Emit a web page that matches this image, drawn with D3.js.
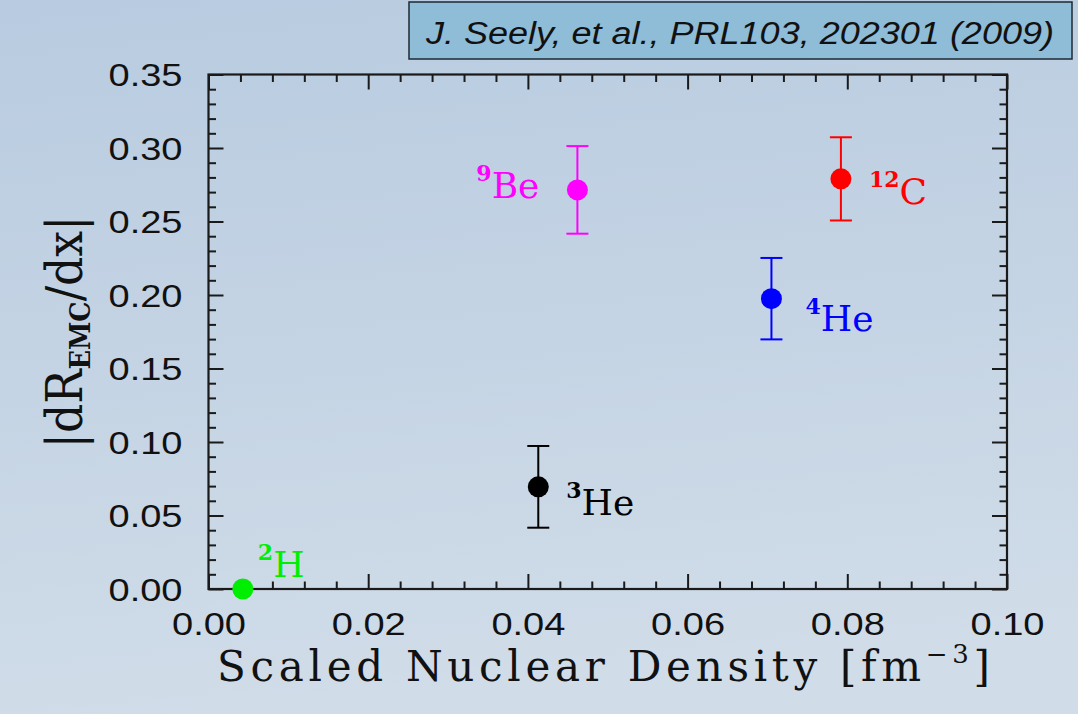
<!DOCTYPE html>
<html>
<head>
<meta charset="utf-8">
<script src="https://cdn.jsdelivr.net/npm/d3@7"></script>
<style>
  html, body { margin: 0; padding: 0; background: #c4d3e4; }
  svg { display: block; }
</style>
</head>
<body>
<svg id="chart" width="1078" height="714"></svg>
<script>
// EMC slope vs. scaled nuclear density
const massNumbers = ["2", "3", "4", "9", "12"];
const symbols     = ["H", "He", "He", "Be", "C"];
const density     = [0.0043, 0.0413, 0.0705, 0.0462, 0.0792];   // fm^-3
const emcSlope    = [0.000, 0.0695, 0.1975, 0.2715, 0.2790];    // |dR_EMC/dx|
const emcSlopeErr = [0.000, 0.0278, 0.0277, 0.0298, 0.0283];
const pointColors = ["#00ee00", "#000000", "#0000ff", "#ff00ff", "#ff0000"];

const xTickValues = [0, 0.02, 0.04, 0.06, 0.08, 0.10];
const xTickLabels = ["0.00", "0.02", "0.04", "0.06", "0.08", "0.10"];
const yTickValues = [0, 0.05, 0.10, 0.15, 0.20, 0.25, 0.30, 0.35];
const yTickLabels = ["0.00", "0.05", "0.10", "0.15", "0.20", "0.25", "0.30", "0.35"];

const citation = "J. Seely, et al., PRL103, 202301 (2009)";

// label placement relative to each marker (px): [dx, dy, anchor]
const labelPlacement = [
  [15, -12, "start"],
  [28, 28, "start"],
  [34, 32, "start"],
  [-38, 8, "end"],
  [28, 25, "start"]
];

const svg = d3.select("#chart");
const W = 1078, H = 714;
const frame = { left: 208.5, right: 1007, top: 74.5, bottom: 589 };

// backdrop
const defs = svg.append("defs");
const grad = defs.append("linearGradient").attr("id", "bg")
  .attr("x1", 0).attr("y1", 0).attr("x2", 0.15).attr("y2", 1);
grad.append("stop").attr("offset", 0).attr("stop-color", "#b8cbe0");
grad.append("stop").attr("offset", 1).attr("stop-color", "#d0dce8");
svg.append("rect").attr("width", W).attr("height", H).attr("fill", "url(#bg)");

const x = d3.scaleLinear().domain([0, 0.10]).range([frame.left, frame.right]);
const y = d3.scaleLinear().domain([0, 0.35]).range([frame.bottom, frame.top]);

const xMinor = d3.range(0, 0.1001, 0.004).filter(v => Math.abs(v / 0.02 - Math.round(v / 0.02)) > 1e-6);
const yMinor = d3.range(0, 0.3501, 0.01).filter(v => Math.abs(v / 0.05 - Math.round(v / 0.05)) > 1e-6);

const MAJOR = 15, MINOR = 7.5;
const axisColor = "#1a1a1a";

function styleAxis(g) {
  g.select(".domain").remove();
  g.selectAll(".tick line").attr("stroke", axisColor).attr("stroke-width", 2);
}

// bottom
svg.append("g").attr("transform", `translate(0,${frame.bottom})`)
  .call(d3.axisBottom(x).tickValues(xTickValues).tickSize(-MAJOR).tickPadding(MAJOR + 30)
    .tickFormat((d, i) => xTickLabels[i]))
  .call(styleAxis)
  .call(g => g.selectAll("text")
    .attr("y", 46).attr("dy", null)
    .attr("font-family", "Liberation Sans, Arial, sans-serif")
    .attr("font-size", 31).attr("fill", "#111")
    .attr("textLength", 74).attr("lengthAdjust", "spacingAndGlyphs"));
svg.append("g").attr("transform", `translate(0,${frame.bottom})`)
  .call(d3.axisBottom(x).tickValues(xMinor).tickSize(-MINOR).tickFormat(""))
  .call(styleAxis);

// top
svg.append("g").attr("transform", `translate(0,${frame.top})`)
  .call(d3.axisTop(x).tickValues(xTickValues).tickSize(-MAJOR).tickFormat(""))
  .call(styleAxis);
svg.append("g").attr("transform", `translate(0,${frame.top})`)
  .call(d3.axisTop(x).tickValues(xMinor).tickSize(-MINOR).tickFormat(""))
  .call(styleAxis);

// left
svg.append("g").attr("transform", `translate(${frame.left},0)`)
  .call(d3.axisLeft(y).tickValues(yTickValues).tickSize(-MAJOR)
    .tickFormat((d, i) => yTickLabels[i]))
  .call(styleAxis)
  .call(g => g.selectAll("text")
    .attr("x", -26).attr("dy", "0.36em")
    .attr("font-family", "Liberation Sans, Arial, sans-serif")
    .attr("font-size", 31).attr("fill", "#111")
    .attr("textLength", 74).attr("lengthAdjust", "spacingAndGlyphs"));
svg.append("g").attr("transform", `translate(${frame.left},0)`)
  .call(d3.axisLeft(y).tickValues(yMinor).tickSize(-MINOR).tickFormat(""))
  .call(styleAxis);

// right
svg.append("g").attr("transform", `translate(${frame.right},0)`)
  .call(d3.axisRight(y).tickValues(yTickValues).tickSize(-MAJOR).tickFormat(""))
  .call(styleAxis);
svg.append("g").attr("transform", `translate(${frame.right},0)`)
  .call(d3.axisRight(y).tickValues(yMinor).tickSize(-MINOR).tickFormat(""))
  .call(styleAxis);

// frame
svg.append("rect")
  .attr("x", frame.left).attr("y", frame.top)
  .attr("width", frame.right - frame.left).attr("height", frame.bottom - frame.top)
  .attr("fill", "none").attr("stroke", axisColor).attr("stroke-width", 2.2);

// data
const pts = density.map((d, i) => ({
  x: d, y: emcSlope[i], e: emcSlopeErr[i],
  a: massNumbers[i], s: symbols[i], c: pointColors[i], p: labelPlacement[i]
}));

const CAP = 11;
const bars = svg.append("g").selectAll("g").data(pts.filter(d => d.e > 0)).join("g")
  .attr("stroke", d => d.c).attr("stroke-width", 2);
bars.append("line")
  .attr("x1", d => x(d.x)).attr("x2", d => x(d.x))
  .attr("y1", d => y(d.y - d.e)).attr("y2", d => y(d.y + d.e));
bars.append("line")
  .attr("x1", d => x(d.x) - CAP).attr("x2", d => x(d.x) + CAP)
  .attr("y1", d => y(d.y + d.e)).attr("y2", d => y(d.y + d.e));
bars.append("line")
  .attr("x1", d => x(d.x) - CAP).attr("x2", d => x(d.x) + CAP)
  .attr("y1", d => y(d.y - d.e)).attr("y2", d => y(d.y - d.e));

svg.append("g").selectAll("circle").data(pts).join("circle")
  .attr("cx", d => x(d.x)).attr("cy", d => y(d.y)).attr("r", 10.5)
  .attr("fill", d => d.c);

// nucleus labels
const lbl = svg.append("g").selectAll("text").data(pts).join("text")
  .attr("x", d => x(d.x) + d.p[0]).attr("y", d => y(d.y) + d.p[1])
  .attr("text-anchor", d => d.p[2])
  .attr("font-family", "DejaVu Serif, serif")
  .attr("font-size", 36)
  .attr("fill", d => d.c);
lbl.append("tspan").attr("font-size", 22).attr("font-weight", "bold")
  .attr("dy", -17).text(d => d.a);
lbl.append("tspan").attr("dy", 17).text(d => d.s);

// axis titles
const xTitle = svg.append("text")
  .attr("x", 217).attr("y", 681)
  .attr("font-family", "DejaVu Serif, serif")
  .attr("font-size", 42).attr("fill", "#111")
  .attr("textLength", 773).attr("lengthAdjust", "spacing");
xTitle.append("tspan").text("Scaled Nuclear Density [fm");
xTitle.append("tspan").attr("font-size", 26).attr("dy", -18).text("\u22123");
xTitle.append("tspan").attr("dy", 18).text("]");

const yTitle = svg.append("text")
  .attr("transform", "translate(82,332) rotate(-90)")
  .attr("text-anchor", "middle")
  .attr("font-family", "DejaVu Serif, serif")
  .attr("font-size", 50).attr("fill", "#111")
  .attr("textLength", 233).attr("lengthAdjust", "spacingAndGlyphs");
yTitle.append("tspan").text("|dR");
yTitle.append("tspan").attr("font-size", 28).attr("font-weight", "bold").attr("dy", 8).text("EMC");
yTitle.append("tspan").attr("dy", -8).text("/dx|");

// citation box
svg.append("rect")
  .attr("x", 409).attr("y", 2).attr("width", 663).attr("height", 57)
  .attr("fill", "#8fbcd6").attr("stroke", "#1e2a33").attr("stroke-width", 1.5);
svg.append("text")
  .attr("x", 426).attr("y", 44)
  .attr("font-family", "Liberation Sans, Arial, sans-serif")
  .attr("font-style", "italic").attr("font-size", 31).attr("fill", "#111")
  .attr("textLength", 628).attr("lengthAdjust", "spacingAndGlyphs")
  .text(citation);
</script>
</body>
</html>
